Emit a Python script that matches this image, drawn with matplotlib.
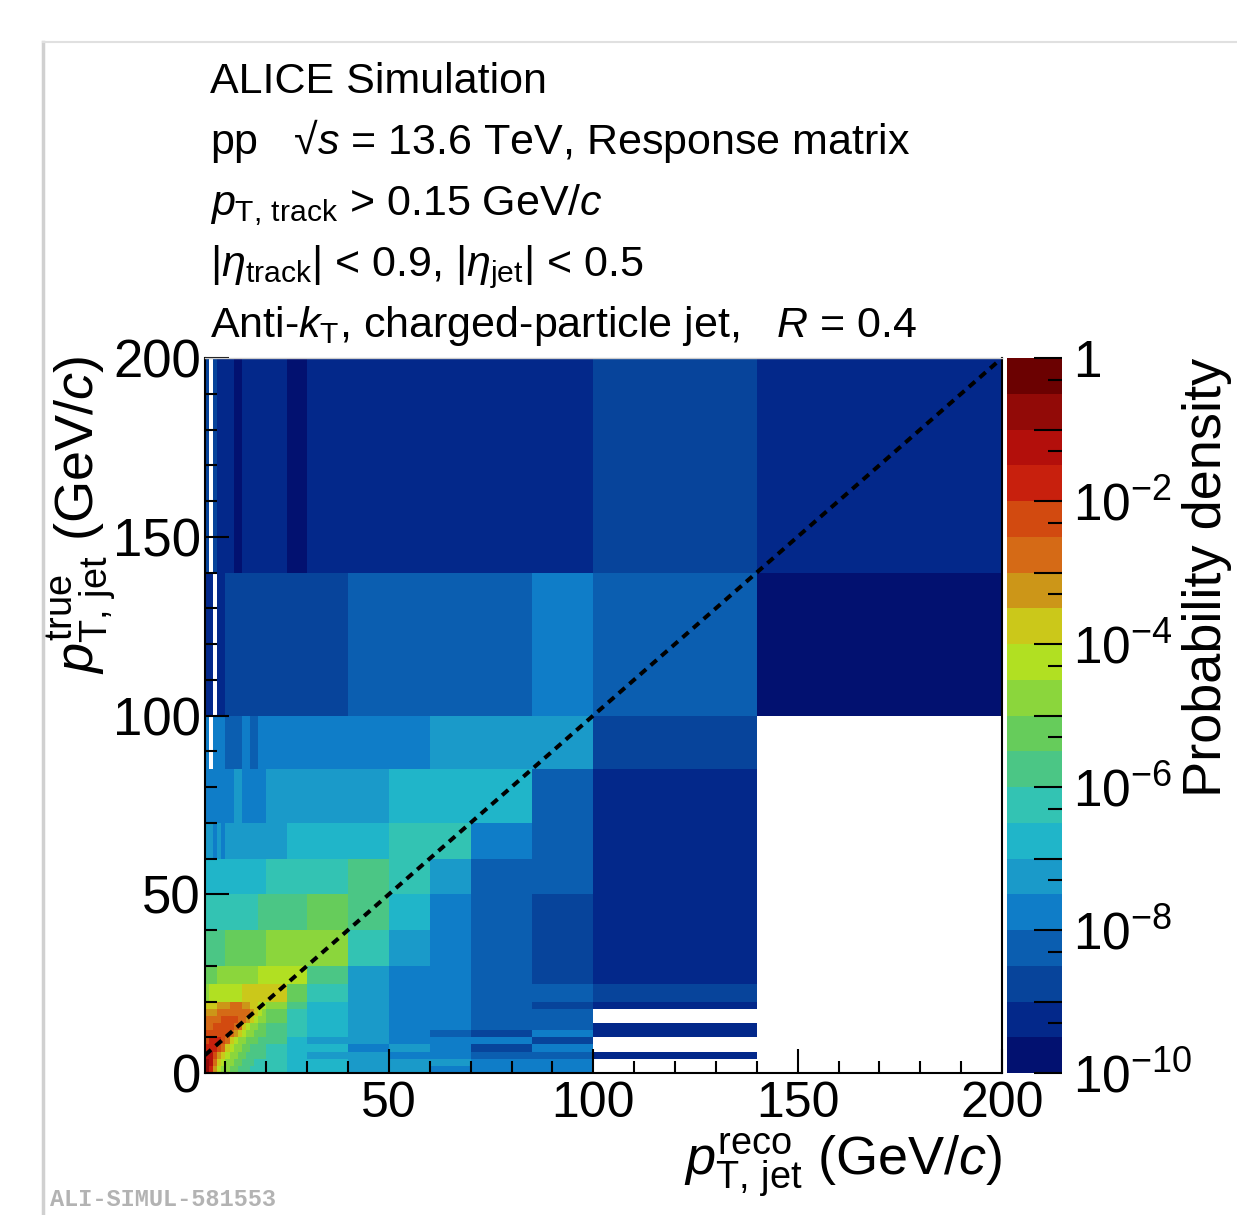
import numpy as np
import matplotlib
matplotlib.use("Agg")
import matplotlib.pyplot as plt
from matplotlib.colors import ListedColormap, LogNorm
from matplotlib.lines import Line2D
from matplotlib.ticker import FixedLocator, FuncFormatter, MultipleLocator

plt.rcParams["font.family"] = ["Liberation Sans", "DejaVu Sans"]
plt.rcParams["mathtext.fontset"] = "custom"
plt.rcParams["mathtext.rm"] = "Liberation Sans"
plt.rcParams["mathtext.it"] = "Liberation Sans:italic"
plt.rcParams["mathtext.bf"] = "Liberation Sans:bold"

# response matrix binning (GeV/c)
reco_edges = [5, 6, 7, 8, 9, 10, 11, 12, 13, 14, 15, 16, 17, 18, 19, 20,
              25, 30, 40, 50, 60, 70, 85, 100, 140, 200]
true_edges = [0, 2, 4, 6, 8, 10, 12, 14, 16, 18, 20,
              25, 30, 40, 50, 60, 70, 85, 100, 140, 200]

# palette level of each cell, in half decades above 1e-10 ('0'-'9', 'a'-'j'),
# '.' = empty bin. Rows go from the highest true bin (140-200) down to 0-2.
# levels_fine: reco 5-20 in 1 GeV bins, levels_wide: reco 20-25 ... 140-200
levels_fine = [
    "2.2111100111111",  # 140-200
    "11.112222222222",  # 100-140
    "4.4443333443344",  # 85-100
    "444444455444444",  # 70-85
    "554545555555555",  # 60-70
    "666666666666666",  # 50-60
    "777777777777788",  # 40-50
    "888889999999999",  # 30-40
    "999aaaaaaaaaabb",  # 25-30
    "abbbbbbbbcccccc",  # 20-25
    "cccdddeeeddccbb",  # 18-20
    "dddeeeeeeeedcba",  # 16-18
    "eeeeffffeedcbaa",  # 14-16
    "eefffffeecbaa99",  # 12-14
    "ffffffedcbaa999",  # 10-12
    "fgggfecbaa99988",  # 8-10
    "gggfecbaa998888",  # 6-8
    "hhfdcbaa9988888",  # 4-6
    "ihecbaa99888777",  # 2-4
    "igdbaa998887777",  # 0-2
]
levels_wide = [
    "1011111121",
    "2223333430",
    "444445552.",
    "555566631.",
    "566677431.",
    "777875331.",
    "889864321.",
    "aaa754321.",
    "bb8544321.",
    "c97544332.",
    "a86544321.",
    "97654433..",
    "97654433..",
    "876544331.",
    "876543241.",
    "86554442..",
    "76645424..",
    "765544331.",
    "76655544..",
    "76655444..",
]

palette = ["#021170", "#03288a", "#07449b", "#0b5eb0", "#0f7dc8",
           "#1a9ac9", "#20b5c9", "#33c3b3", "#4bc685", "#66cc5b",
           "#8bd63c", "#b1e022", "#cbc81a", "#cc9618", "#d56a16",
           "#d24a10", "#c8200d", "#b30f0b", "#920a07", "#6b0101"]

rows = [f + w for f, w in zip(levels_fine, levels_wide)][::-1]
lev = np.array([[np.nan if ch == "." else int(ch, 20) for ch in r] for r in rows])
density = np.ma.masked_invalid(10.0 ** (-10 + 0.5 * lev + 0.25))

W, H = 1237, 1215
fig = plt.figure(figsize=(W / 100, H / 100), dpi=100)
ax = fig.add_axes([205 / W, 1 - 1073 / H, 797 / W, 715 / H])
cax = fig.add_axes([1007 / W, 1 - 1073 / H, 55 / W, 715 / H])

cmap = ListedColormap(palette)
mesh = ax.pcolormesh(reco_edges, true_edges, density, cmap=cmap,
                     norm=LogNorm(1e-10, 1), edgecolors="none", linewidth=0)
ax.plot([5, 200], [5, 200], color="black", lw=2.9, ls=(0, (2.0, 1.5)))

ax.set_xlim(5, 200)
ax.set_ylim(0, 200)
ax.xaxis.set_major_locator(FixedLocator([50, 100, 150, 200]))
ax.yaxis.set_major_locator(FixedLocator([0, 50, 100, 150, 200]))
ax.xaxis.set_minor_locator(MultipleLocator(10))
ax.yaxis.set_minor_locator(MultipleLocator(10))
ax.tick_params(which="both", direction="in", width=1.5, top=False, right=False)
ax.tick_params(which="major", length=17)
ax.tick_params(which="minor", length=8.5)
ax.tick_params(axis="x", which="major", pad=6, labelsize=36)
ax.tick_params(axis="y", which="major", pad=3, labelsize=38)
for side in ["left", "bottom", "right"]:
    ax.spines[side].set_linewidth(1.5)
ax.spines["top"].set_color("#cccccc")
ax.spines["top"].set_linewidth(1.0)

cbar = fig.colorbar(mesh, cax=cax)
cbar.outline.set_visible(False)
cax.yaxis.set_ticks_position("right")
cax.yaxis.set_major_locator(FixedLocator(10.0 ** np.arange(-10, 1)))
cax.yaxis.set_minor_locator(FixedLocator(5 * 10.0 ** np.arange(-10, 0)))


def cbar_label(v, pos):
    e = int(round(np.log10(v)))
    if e == 0:
        return "1"
    if e % 2:
        return ""
    return r"$10^{%d}$" % e


cax.yaxis.set_major_formatter(FuncFormatter(cbar_label))
cax.yaxis.set_minor_formatter(FuncFormatter(lambda v, p: ""))
cax.tick_params(which="both", direction="in", width=1.5, right=True, left=False)
cax.tick_params(which="major", length=20, labelsize=37, pad=8)
cax.tick_params(which="minor", length=10)

fig.text(1207 / W, 1 - 358 / H, "Probability density", rotation=90,
         ha="center", va="top", fontsize=39)
fig.text(82 / W, 1 - 356 / H, r"$p^{\mathrm{true}}_{\mathrm{T,\,jet}}$ (GeV/$c$)",
         rotation=90, ha="center", va="top", fontsize=39)
fig.text(1002 / W, 1 - 1166 / H, r"$p^{\mathrm{reco}}_{\mathrm{T,\,jet}}$ (GeV/$c$)",
         ha="right", va="center", fontsize=39)

header = [
    "ALICE Simulation",
    "pp   \u221a$s$ = 13.6 TeV, Response matrix",
    r"$p_{\mathrm{T,\,track}}$ > 0.15 GeV/$c$",
    r"|$\eta_{\mathrm{track}}$| < 0.9, |$\eta_{\mathrm{jet}}$| < 0.5",
    r"Anti-$k_{\mathrm{T}}$, charged-particle jet,   $R$ = 0.4",
]
for i, line in enumerate(header):
    fig.text(210 / W, 1 - (93 + 61 * i) / H, line, fontsize=31, va="baseline")

# canvas edge
fig.add_artist(Line2D([43 / W, 43 / W], [0, 1 - 42 / H], transform=fig.transFigure,
                      color="#d0d0d0", lw=2.5))
fig.add_artist(Line2D([43 / W, 1], [1 - 42 / H, 1 - 42 / H], transform=fig.transFigure,
                      color="#e0e0e0", lw=1.5))
fig.text(50 / W, 1 - 1200 / H, "ALI-SIMUL-581553", family="Liberation Mono",
         weight="bold", color="#b3b3b3", fontsize=17, va="center")

fig.savefig("out.png", dpi=100)
